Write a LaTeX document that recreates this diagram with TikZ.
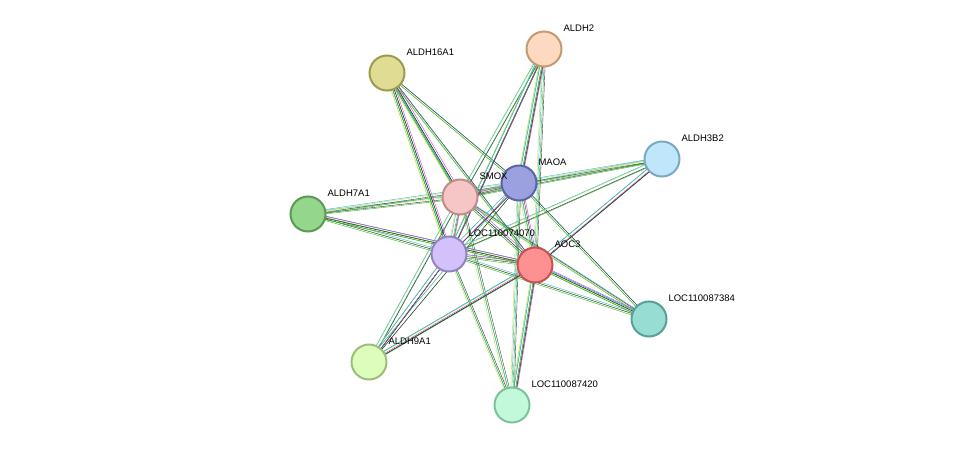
\documentclass[tikz,border=0pt]{standalone}
\usepackage{fontspec}
\setmainfont{Liberation Sans}
\usetikzlibrary{backgrounds}
\definecolor{eg}{HTML}{2DB52D}\definecolor{ec}{HTML}{2BB5E0}\definecolor{ey}{HTML}{C6E03C}
\definecolor{em}{HTML}{D637D6}\definecolor{ek}{HTML}{333333}
\newcommand\myedge[2]{%
 \draw[ey] ([xshift=-1.8pt,yshift=.6pt]#1.center)--([xshift=-1.8pt,yshift=.6pt]#2.center);
 \draw[ec] ([xshift=-.6pt,yshift=1.8pt]#1.center)--([xshift=-.6pt,yshift=1.8pt]#2.center);
 \draw[eg] ([xshift=.6pt,yshift=-1.8pt]#1.center)--([xshift=.6pt,yshift=-1.8pt]#2.center);
 \draw[ek] ([xshift=1.8pt,yshift=-.6pt]#1.center)--([xshift=1.8pt,yshift=-.6pt]#2.center);}
\newcommand\myedgem[2]{\myedge{#1}{#2}%
 \draw[em] ([xshift=2.8pt,yshift=1.2pt]#1.center)--([xshift=2.8pt,yshift=1.2pt]#2.center);}
\begin{document}
\begin{tikzpicture}[x=1pt,y=-1pt,line width=1.1pt,
 prot/.style={circle,minimum size=35pt,inner sep=0pt,line width=2pt},
 lab/.style={font=\fontsize{9.5}{11}\selectfont,anchor=south west,inner sep=1pt}]
\useasboundingbox (0,0) rectangle (975,452);
\node[prot,fill={rgb,255:red,253;green,217;blue,191},draw={rgb,255:red,196;green,154;blue,115}] (aldh2) at (544,49) {};
\node[prot,fill={rgb,255:red,224;green,220;blue,147},draw={rgb,255:red,157;green,155;blue,80}] (a16) at (387,73) {};
\node[prot,fill={rgb,255:red,192;green,230;blue,251},draw={rgb,255:red,123;green,168;blue,196}] (a3b2) at (662,159) {};
\node[prot,fill={rgb,255:red,155;green,161;blue,223},draw={rgb,255:red,92;green,100;blue,167}] (maoa) at (519,183) {};
\node[prot,fill={rgb,255:red,246;green,198;blue,199},draw={rgb,255:red,192;green,139;blue,140}] (smox) at (460,197) {};
\node[prot,fill={rgb,255:red,148;green,215;blue,140},draw={rgb,255:red,90;green,154;blue,83}] (a7) at (308,214) {};
\node[prot,fill={rgb,255:red,210;green,193;blue,251},draw={rgb,255:red,148;green,131;blue,192}] (l070) at (449,254) {};
\node[prot,fill={rgb,255:red,253;green,145;blue,145},draw={rgb,255:red,199;green,80;blue,80}] (aoc3) at (535,265) {};
\node[prot,fill={rgb,255:red,151;green,221;blue,212},draw={rgb,255:red,88;green,160;blue,151}] (l384) at (649,319) {};
\node[prot,fill={rgb,255:red,221;green,253;blue,188},draw={rgb,255:red,156;green,189;blue,124}] (a9) at (369,362) {};
\node[prot,fill={rgb,255:red,193;green,249;blue,218},draw={rgb,255:red,126;green,193;blue,155}] (l420) at (512,405) {};
\begin{scope}[on background layer]
\foreach \h in {smox,maoa,l070,aoc3}{
 \foreach \t in {aldh2,a16,a3b2,a7,a9,l420,l384}{\myedge{\h}{\t}}}
\myedgem{smox}{maoa}\myedgem{smox}{l070}\myedgem{smox}{aoc3}
\myedgem{maoa}{l070}\myedgem{maoa}{aoc3}\myedgem{l070}{aoc3}
\myedgem{a16}{smox}\myedgem{a16}{l070}\myedgem{aldh2}{l070}\myedgem{a9}{l070}\myedgem{a9}{aoc3}
\myedgem{a7}{aoc3}\myedgem{a3b2}{aoc3}\myedgem{l384}{aoc3}\myedgem{l420}{aoc3}\myedgem{aldh2}{maoa}
\end{scope}
\node[lab] at (562,33) {ALDH2};
\node[lab] at (405,57) {ALDH16A1};
\node[lab] at (680,143) {ALDH3B2};
\node[lab] at (537,167) {MAOA};
\node[lab] at (478,181) {SMOX};
\node[lab] at (326,198) {ALDH7A1};
\node[lab] at (467,238) {LOC110074070};
\node[lab] at (553,249) {AOC3};
\node[lab] at (667,303) {LOC110087384};
\node[lab] at (387,346) {ALDH9A1};
\node[lab] at (530,389) {LOC110087420};
\end{tikzpicture}
\end{document}
